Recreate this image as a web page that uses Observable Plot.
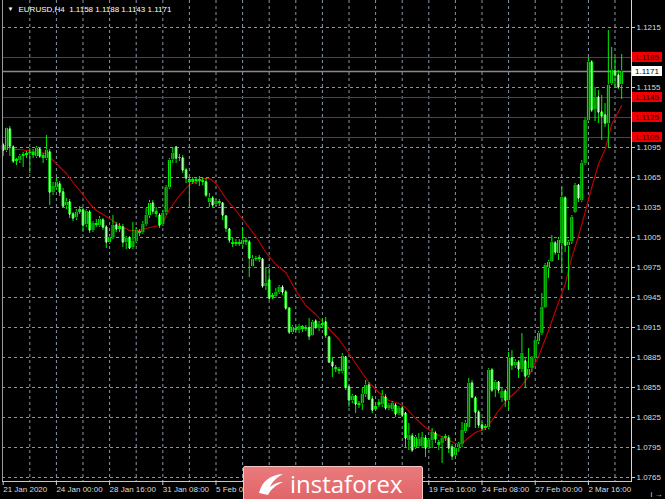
<!DOCTYPE html>
<html><head><meta charset="utf-8">
<script src="https://cdn.jsdelivr.net/npm/d3@7"></script>
<script src="https://cdn.jsdelivr.net/npm/@observablehq/plot@0.6"></script>
<style>
html,body{margin:0;padding:0;background:#000;}
#wrap{position:relative;width:665px;height:499px;overflow:hidden;background:#000;}
#logo{position:absolute;left:243px;top:466px;width:180px;height:40px;box-sizing:border-box;
 background:linear-gradient(#e97a7c,#df6165);border:1px solid #f4c6c6;border-radius:2px;}
#logo span{position:absolute;left:46px;top:0px;color:#fff;font-family:"Open Sans",sans-serif;font-weight:400;font-size:24px;}
#logo svg{position:absolute;left:12px;top:4px;}
</style></head><body><div id="wrap"></div>
<script>
const opens = [
1.1097,1.1092,1.1113,1.1095,1.1081,1.1082,1.1086,1.1087,1.1089,1.1090,
1.1086,1.1093,1.1087,1.1084,1.1090,1.1050,1.1055,1.1058,1.1050,1.1037,
1.1040,1.1028,1.1025,1.1030,1.1032,1.1018,1.1030,1.1012,1.1019,1.1017,
1.1022,1.1015,1.1000,1.1005,1.1017,1.1013,1.1015,1.1000,1.1004,1.0995,
1.1001,1.1011,1.1010,1.1018,1.1027,1.1039,1.1031,1.1027,1.1018,1.1030,
1.1055,1.1083,1.1095,1.1084,1.1084,1.1072,1.1063,1.1060,1.1063,1.1061,
1.1062,1.1060,1.1040,1.1044,1.1038,1.1041,1.1039,1.1026,1.1013,1.1000,
1.0998,1.1000,1.0998,1.1002,1.1000,1.0976,1.0983,1.0983,1.0983,1.0956,
1.0962,1.0945,1.0946,1.0950,1.0955,1.0950,1.0934,1.0910,1.0914,1.0912,
1.0916,1.0913,1.0914,1.0907,1.0921,1.0914,1.0917,1.0920,1.0905,1.0880,
1.0875,1.0873,1.0871,1.0885,1.0855,1.0842,1.0846,1.0837,1.0839,1.0848,
1.0857,1.0843,1.0833,1.0840,1.0838,1.0845,1.0834,1.0833,1.0837,1.0829,
1.0834,1.0829,1.0802,1.0806,1.0795,1.0796,1.0796,1.0804,1.0795,1.0802,
1.0809,1.0797,1.0799,1.0804,1.0804,1.0795,1.0787,1.0795,1.0798,1.0811,
1.0815,1.0859,1.0844,1.0830,1.0817,1.0814,1.0815,1.0872,1.0853,1.0860,
1.0844,1.0851,1.0842,1.0884,1.0877,1.0880,1.0873,1.0881,1.0867,1.0874,
1.0884,1.0901,1.0909,1.0935,1.0975,1.0981,1.0999,1.0989,1.0999,1.1044,
1.0997,1.1001,1.1030,1.1057,1.1042,1.1079,1.1122,1.1180,1.1133,1.1145,
1.1130,1.1127,1.1119,1.1159,1.1171,1.1167,1.1158];
const highs = [
1.1099,1.1115,1.1116,1.1097,1.1084,1.1088,1.1090,1.1091,1.1094,1.1093,
1.1096,1.1095,1.1089,1.1107,1.1093,1.1060,1.1064,1.1061,1.1054,1.1044,
1.1043,1.1030,1.1033,1.1036,1.1034,1.1033,1.1032,1.1021,1.1023,1.1026,
1.1024,1.1017,1.1008,1.1027,1.1020,1.1019,1.1018,1.1006,1.1006,1.1020,
1.1015,1.1013,1.1021,1.1034,1.1042,1.1042,1.1035,1.1029,1.1032,1.1057,
1.1084,1.1095,1.1096,1.1088,1.1087,1.1074,1.1064,1.1065,1.1065,1.1066,
1.1065,1.1064,1.1049,1.1046,1.1043,1.1043,1.1040,1.1027,1.1014,1.1004,
1.1003,1.1003,1.1015,1.1005,1.1002,1.0987,1.0986,1.0987,1.0984,1.0975,
1.0974,1.0949,1.0954,1.0957,1.0957,1.0952,1.0934,1.0917,1.0916,1.0918,
1.0917,1.0917,1.0924,1.0922,1.0923,1.0921,1.0924,1.0925,1.0906,1.0884,
1.0877,1.0875,1.0889,1.0886,1.0857,1.0848,1.0847,1.0841,1.0854,1.0862,
1.0860,1.0846,1.0838,1.0843,1.0852,1.0848,1.0839,1.0841,1.0839,1.0836,
1.0836,1.0830,1.0819,1.0809,1.0807,1.0809,1.0810,1.0807,1.0804,1.0814,
1.0811,1.0802,1.0806,1.0808,1.0807,1.0798,1.0796,1.0800,1.0820,1.0822,
1.0864,1.0862,1.0846,1.0832,1.0820,1.0818,1.0874,1.0874,1.0862,1.0861,
1.0855,1.0853,1.0890,1.0892,1.0883,1.0882,1.0909,1.0884,1.0894,1.0886,
1.0903,1.0911,1.0949,1.0979,1.0982,1.1007,1.1001,1.1005,1.1055,1.1046,
1.1002,1.1027,1.1059,1.1058,1.1082,1.1124,1.1185,1.1182,1.1155,1.1152,
1.1147,1.1139,1.1212,1.1195,1.1185,1.1172,1.1188];
const lows = [
1.1086,1.1090,1.1086,1.1079,1.1077,1.1079,1.1075,1.1084,1.1069,1.1084,
1.1084,1.1084,1.1079,1.1082,1.1037,1.1047,1.1052,1.1046,1.1034,1.1033,
1.1024,1.1021,1.1022,1.1028,1.1010,1.1015,1.1009,1.1010,1.1015,1.1015,
1.1012,1.0994,1.0998,1.1003,1.1010,1.1010,1.0995,1.0993,1.0993,1.0993,
1.0999,1.1006,1.1008,1.1016,1.1024,1.1028,1.1025,1.1014,1.1016,1.1027,
1.1053,1.1079,1.1079,1.1081,1.1069,1.1059,1.1035,1.1058,1.1058,1.1056,
1.1057,1.1045,1.1035,1.1034,1.1036,1.1036,1.1022,1.1010,1.0999,1.0995,
1.0996,1.0996,1.0995,1.0997,1.0965,1.0975,1.0981,1.0980,1.0954,1.0952,
1.0942,1.0943,1.0944,1.0948,1.0947,1.0932,1.0908,1.0908,1.0910,1.0909,
1.0910,1.0911,1.0902,1.0906,1.0913,1.0911,1.0914,1.0904,1.0879,1.0865,
1.0870,1.0868,1.0869,1.0852,1.0835,1.0839,1.0829,1.0834,1.0832,1.0845,
1.0842,1.0829,1.0831,1.0835,1.0835,1.0832,1.0832,1.0831,1.0825,1.0827,
1.0825,1.0795,1.0792,1.0790,1.0793,1.0794,1.0794,1.0785,1.0793,1.0794,
1.0799,1.0792,1.0779,1.0801,1.0789,1.0782,1.0785,1.0790,1.0795,1.0809,
1.0814,1.0844,1.0814,1.0814,1.0811,1.0812,1.0813,1.0850,1.0845,1.0849,
1.0840,1.0835,1.0833,1.0872,1.0874,1.0864,1.0870,1.0855,1.0865,1.0870,
1.0882,1.0898,1.0907,1.0934,1.0964,1.0980,1.0987,1.0982,1.0969,1.0990,
1.0952,1.0998,1.1029,1.1040,1.1040,1.1077,1.1120,1.1130,1.1121,1.1119,
1.1102,1.1115,1.1095,1.1157,1.1155,1.1153,1.1143];
const closes = [
1.1092,1.1114,1.1096,1.1081,1.1083,1.1086,1.1088,1.1089,1.1090,1.1087,
1.1094,1.1086,1.1084,1.1092,1.1050,1.1056,1.1060,1.1050,1.1036,1.1040,
1.1028,1.1024,1.1030,1.1033,1.1017,1.1031,1.1012,1.1019,1.1017,1.1023,
1.1015,1.1000,1.1005,1.1017,1.1013,1.1016,1.1000,1.1004,1.0994,1.1001,
1.1012,1.1009,1.1018,1.1027,1.1039,1.1031,1.1028,1.1017,1.1029,1.1055,
1.1082,1.1089,1.1084,1.1085,1.1072,1.1064,1.1060,1.1063,1.1061,1.1063,
1.1060,1.1047,1.1044,1.1037,1.1041,1.1039,1.1027,1.1014,1.1002,1.0998,
1.1000,1.0998,1.1002,1.1000,1.0984,1.0983,1.0984,1.0985,1.0956,1.0959,
1.0944,1.0947,1.0950,1.0955,1.0950,1.0934,1.0910,1.0915,1.0912,1.0916,
1.0913,1.0915,1.0906,1.0920,1.0915,1.0918,1.0919,1.0907,1.0880,1.0876,
1.0873,1.0871,1.0886,1.0855,1.0842,1.0846,1.0838,1.0839,1.0848,1.0857,
1.0843,1.0832,1.0836,1.0837,1.0846,1.0834,1.0837,1.0839,1.0828,1.0834,
1.0827,1.0804,1.0807,1.0792,1.0805,1.0803,1.0805,1.0794,1.0802,1.0810,
1.0803,1.0800,1.0804,1.0806,1.0794,1.0786,1.0794,1.0798,1.0812,1.0819,
1.0859,1.0845,1.0830,1.0817,1.0814,1.0816,1.0872,1.0852,1.0860,1.0852,
1.0851,1.0842,1.0884,1.0877,1.0880,1.0873,1.0889,1.0866,1.0873,1.0884,
1.0902,1.0909,1.0935,1.0977,1.0980,1.1000,1.0990,1.1002,1.1045,1.0997,
1.1000,1.1025,1.1057,1.1044,1.1079,1.1122,1.1180,1.1132,1.1145,1.1130,
1.1126,1.1119,1.1157,1.1172,1.1167,1.1155,1.1171];

// moving average (red line), read at selected bars
const maBar = [3,5,9,11,13,14,16,19,21,23,26,28,32,35,38,41,44,47,48,50,53,56,59,60,62,64,67,70,73,76,79,82,85,88,91,94,97,101,104,107,110,113,116,119,121,124,127,130,133,136,138,140,142,145,147,149,152,155,158,161,164,167,169,171,173,175,177,179,181,183,186];
const maValue = [1.1093,1.1093,1.1091,1.1090,1.1089,1.1085,1.1079,1.1069,1.1060,1.1052,1.1039,1.1032,1.1024,1.1017,1.1012,1.1012,1.1015,1.1017,1.1020,1.1033,1.1047,1.1058,1.1062,1.1064,1.1064,1.1059,1.1044,1.1032,1.1019,1.1006,1.0990,1.0978,1.0970,1.0952,1.0937,1.0928,1.0917,1.0903,1.0889,1.0874,1.0860,1.0850,1.0842,1.0839,1.0835,1.0824,1.0815,1.0809,1.0804,1.0799,1.0799,1.0805,1.0810,1.0814,1.0822,1.0832,1.0844,1.0853,1.0866,1.0886,1.0912,1.0940,1.0958,1.0985,1.1006,1.1030,1.1055,1.1078,1.1093,1.1118,1.1137];

const priceGrid = [1.0765,1.0795,1.0825,1.0855,1.0885,1.0915,1.0945,1.0975,1.1005,1.1035,1.1065,1.1095,1.1125,1.1155,1.1185,1.1215];
const priceLabels = [1.0765,1.0795,1.0825,1.0855,1.0885,1.0915,1.0945,1.0975,1.1005,1.1035,1.1065,1.1095,1.1155,1.1215];
const redLevels = [1.1185,1.1145,1.1125,1.1105];
const lastPrice = 1.1171;
const gridBars = [8,16,24,32,40,48,56,64,72,80,88,96,104,112,120,128,136,144,152,160,168,176,184];
const timeTickBars = [0,16,32,48,64,80,96,112,128,144,160,176];
const timeTickLabels = ["21 Jan 2020","24 Jan 00:00","28 Jan 16:00","31 Jan 08:00","5 Feb 00:00","","","","19 Feb 16:00","24 Feb 08:00","27 Feb 00:00","2 Mar 16:00"];
const headerText = "EURUSD,H4  1.1158 1.1188 1.1143 1.1171";

const bars = opens.map((o,i)=>({i,o,h:highs[i],l:lows[i],c:closes[i]}));
const ma = maBar.map((b,k)=>({i:b,v:maValue[k]}));
const labelOf = new Map(timeTickBars.map((b,k)=>[b,timeTickLabels[k]]));
const gridC = "#8b96a3", green = "#00f000";
const font = "'Liberation Sans', Arial, sans-serif";

const plot = Plot.plot({
  width: 665, height: 499,
  marginLeft: 2, marginRight: 34, marginTop: 0, marginBottom: 17,
  style: {background: "#000", color: "#d8d8d8", fontFamily: font, fontSize: "8px", overflow: "visible"},
  x: {domain: [-0.21, 188.96], axis: null},
  y: {domain: [1.0760, 1.1242], axis: null},
  marks: [
    Plot.ruleY(priceGrid, {stroke: gridC, strokeDasharray: "3,3", strokeWidth: 1}),
    Plot.ruleX(gridBars, {stroke: gridC, strokeDasharray: "3,3", strokeWidth: 1}),
    Plot.ruleY(redLevels, {stroke: "#e80000", strokeWidth: 1}),
    Plot.ruleY([lastPrice], {stroke: "#8a8a8a", strokeWidth: 1.6}),
    Plot.line(ma, {x: "i", y: "v", stroke: "#c40000", strokeWidth: 1.1}),
    Plot.ruleX(bars, {x: "i", y1: "l", y2: "h", stroke: green, strokeWidth: 1}),
    Plot.ruleX(bars, {x: "i", y1: d=>Math.min(d.o,d.c), y2: d=>Math.max(d.o,d.c), stroke: green, strokeWidth: 3}),
    Plot.ruleX(bars.filter(d=>Math.abs(d.o-d.c)>=0.0003), {x: "i", y1: d=>Math.min(d.o,d.c), y2: d=>Math.max(d.o,d.c), insetTop: 1, insetBottom: 1,
      stroke: d=> d.c>=d.o ? "#0b4a0b" : "#e8ffe8", strokeWidth: 1}),
    Plot.axisY(priceLabels, {anchor: "right", tickSize: 3, tickPadding: 2, tickFormat: d=>d.toFixed(4), fontSize: 8, stroke: "#cfcfcf", fill: "#dcdcdc"}),
    Plot.axisX(timeTickBars, {anchor: "bottom", tickSize: 3, tickPadding: 1, tickFormat: d=>labelOf.get(d), textAnchor: "start", fontSize: 8, stroke: "#cfcfcf", fill: "#dcdcdc"}),
    Plot.text([headerText], {frameAnchor: "top-left", dx: 16, dy: 6, fill: "#ffffff", fontSize: 8, textAnchor: "start"}),
    Plot.text(["▼"], {frameAnchor: "top-left", dx: 5, dy: 6, fill: "#ffffff", fontSize: 6, textAnchor: "start"})
  ]
});

const svg = d3.select(plot);
const ys = plot.scale("y");
// frame
svg.append("line").attr("x1",2.5).attr("x2",2.5).attr("y1",0).attr("y2",482).attr("stroke","#9a9a9a");
svg.append("line").attr("x1",2).attr("x2",631.5).attr("y1",481.5).attr("y2",481.5).attr("stroke","#c8c8c8");
svg.append("line").attr("x1",631.5).attr("x2",631.5).attr("y1",0).attr("y2",482).attr("stroke","#d8d8d8");
// level boxes
function box(v, fill, textFill) {
  const y = ys.apply(v);
  svg.append("rect").attr("x",632).attr("y",y-5).attr("width",30).attr("height",10).attr("fill",fill);
  svg.append("text").attr("x",635).attr("y",y).attr("dy","0.32em").attr("fill",textFill)
    .attr("text-anchor","start").attr("font-size",8).attr("font-family",font).text(v.toFixed(4));
}
redLevels.forEach(v=>box(v,"#ee0000","#2a0000"));
box(lastPrice,"#ffffff","#000000");

const wrap = document.getElementById("wrap");
wrap.appendChild(plot);
const logo = document.createElement("div");
logo.id = "logo";
logo.innerHTML = '<svg width="30" height="26" viewBox="0 0 30 26"><path d="M3 22 C6 10 14 4 27 3 C20 7 16 11 14 16 C19 12 23 11 27 11 C20 14 15 18 12 24 Z" fill="#fff"/></svg><span>instaforex</span>';
wrap.appendChild(logo);
</script></body></html>
